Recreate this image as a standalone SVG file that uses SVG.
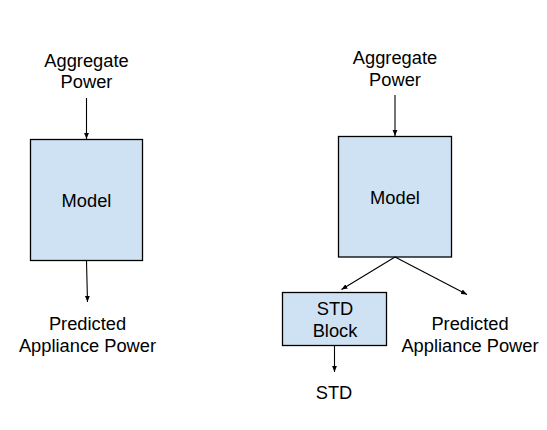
<svg xmlns="http://www.w3.org/2000/svg" width="547" height="430" viewBox="0 0 547 430">
<style>
.box{fill:#cfe2f3;stroke:#000;stroke-width:1.3}
.lbl{font-family:"Liberation Sans",Arial,sans-serif;font-size:18.3px;fill:#000;text-anchor:middle}
.conn line{stroke:#000;stroke-width:1.1;marker-end:url(#ah)}
</style>
<defs>
<marker id="ah" viewBox="0 0 10 10" refX="10" refY="5" markerWidth="6" markerHeight="6" markerUnits="userSpaceOnUse" orient="auto">
<path d="M0,1 L10,5 L0,9 z" fill="#000"/>
</marker>
</defs>
<rect width="547" height="430" fill="#fff"/>
<g id="left-input"><text class="lbl" x="86.5" y="67">Aggregate</text><text class="lbl" x="86.5" y="88">Power</text></g>
<g id="left-model"><rect class="box" x="30.5" y="139.5" width="112" height="121"/><text class="lbl" x="86.5" y="207">Model</text></g>
<g id="left-output"><text class="lbl" x="87.5" y="330">Predicted</text><text class="lbl" x="87.5" y="352">Appliance Power</text></g>
<g id="right-input"><text class="lbl" x="395" y="64">Aggregate</text><text class="lbl" x="395" y="85.5">Power</text></g>
<g id="right-model"><rect class="box" x="338.5" y="136.5" width="113" height="120.5"/><text class="lbl" x="395" y="204">Model</text></g>
<g id="std-block"><rect class="box" x="282.5" y="292.5" width="104" height="53"/><text class="lbl" x="335" y="315">STD</text><text class="lbl" x="335" y="337">Block</text></g>
<g id="right-output"><text class="lbl" x="470" y="329.5">Predicted</text><text class="lbl" x="470" y="352">Appliance Power</text></g>
<g id="std-output"><text class="lbl" x="334" y="399">STD</text></g>
<g class="conn" id="connectors">
<line x1="86.5" y1="98" x2="86.5" y2="139"/>
<line x1="86.5" y1="261" x2="87.5" y2="302"/>
<line x1="395" y1="95" x2="395" y2="136"/>
<line x1="395" y1="257" x2="341.5" y2="289.5"/>
<line x1="395" y1="257" x2="467" y2="294.5"/>
<line x1="334.5" y1="346" x2="334.5" y2="372"/>
</g>
</svg>
